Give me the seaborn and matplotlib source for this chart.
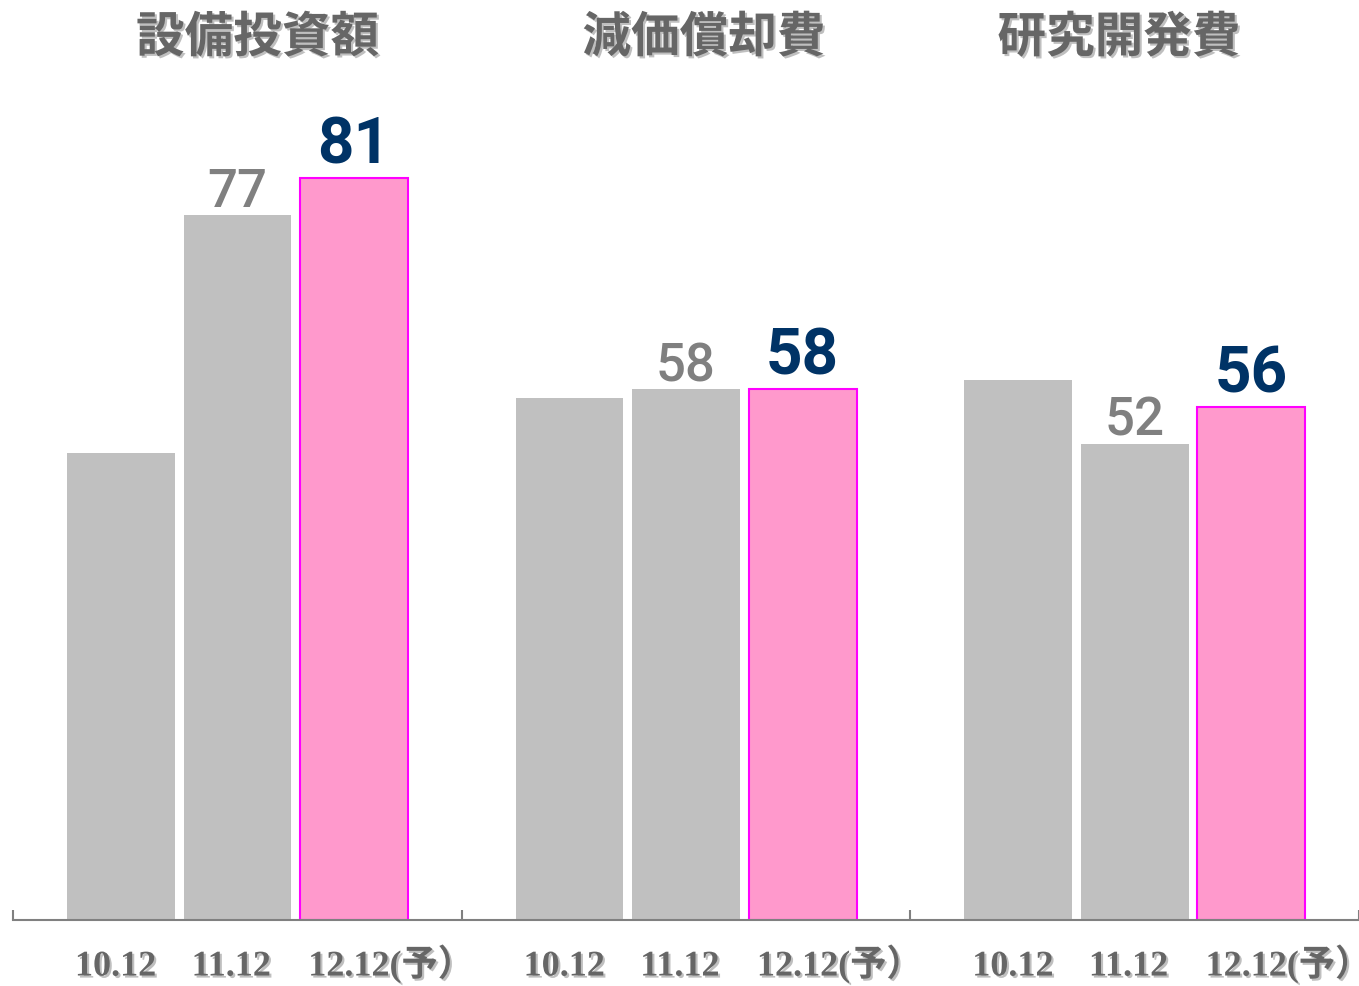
import matplotlib
matplotlib.use("Agg")
import matplotlib.pyplot as plt
import matplotlib.patheffects as pe
from matplotlib.transforms import blended_transform_factory
import pandas as pd
import seaborn as sns

# data
metrics = ["設備投資額", "減価償却費", "研究開発費"]
periods = ["10.12", "11.12", "12.12(予）"]
values_1012 = [51, 57, 59]
values_1112 = [77, 58, 52]
values_1212 = [81, 58, 56]

GREY = "#c0c0c0"
PINK = "#ff99cc"
MAGENTA = "#ff00ff"
LABEL_GREY = "#808080"
NAVY = "#003366"
TEXT_GREY = "#666666"
AXIS_GREY = "#808080"

NUM_FONT = ["Roboto", "DejaVu Sans"]
TICK_FONT = ["Liberation Serif", "Noto Sans CJK JP", "DejaVu Sans"]
TITLE_FONT = ["Noto Sans CJK JP", "DejaVu Sans"]

sns.set_theme(style="white")
plt.rcParams.update({"figure.facecolor": "white", "axes.facecolor": "white"})

df = pd.DataFrame({
    "metric": metrics * 3,
    "period": [periods[0]] * 3 + [periods[1]] * 3 + [periods[2]] * 3,
    "value": values_1012 + values_1112 + values_1212,
})

fig = plt.figure(figsize=(13.59, 9.87), dpi=100)
ax = fig.add_axes([0.0096, 0.0669, 0.9904, 0.8349])

sns.barplot(
    data=df, x="metric", y="value", hue="period",
    order=metrics, hue_order=periods,
    palette=[GREY, GREY, PINK], saturation=1,
    width=0.78, gap=0.077, errorbar=None, legend=False, ax=ax,
)

for i, cont in enumerate(ax.containers):
    for bar in cont:
        if i == 2:
            bar.set_edgecolor(MAGENTA)
            bar.set_linewidth(1.5)
        else:
            bar.set_linewidth(0)

ax.bar_label(ax.containers[1], labels=[str(v) for v in values_1112],
             padding=-1.5, color=LABEL_GREY, fontsize=38, fontweight="medium",
             fontfamily=NUM_FONT)
ax.bar_label(ax.containers[2], labels=[str(v) for v in values_1212],
             padding=2, color=NAVY, fontsize=46, fontweight="bold", fontfamily=NUM_FONT)

shadow = [pe.withSimplePatchShadow(offset=(1.5, -1.5), shadow_rgbFace="#b8b8b8", alpha=0.9)]

# period labels under each bar
bars = sorted(ax.patches, key=lambda p: p.get_x())
ax.set_xticks([b.get_x() + 0.018 for b in bars])
ax.set_xticklabels(periods * len(metrics), ha="left", va="baseline", fontsize=26,
                   fontweight="bold", color=TEXT_GREY, fontfamily=TICK_FONT)
for lbl in ax.get_xticklabels():
    lbl.set_path_effects(shadow)
ax.tick_params(axis="x", which="major", bottom=True, length=0, pad=40)
ax.set_xticks([i - 0.5 for i in range(len(metrics) + 1)], minor=True)
ax.tick_params(axis="x", which="minor", bottom=True, direction="in",
               length=7, width=1.5, color=AXIS_GREY)

ax.set_xlim(-0.5, len(metrics) - 0.5)
ax.set_ylim(0, 90)
ax.set_yticks([])
ax.set_xlabel("")
ax.set_ylabel("")
sns.despine(ax=ax, left=True)
ax.spines["bottom"].set_color(AXIS_GREY)
ax.spines["bottom"].set_linewidth(1.5)

# group titles
title_shift = [0.045, 0.04, -0.035]
trans = blended_transform_factory(ax.transData, fig.transFigure)
for i, m in enumerate(metrics):
    ax.text(i + title_shift[i], 0.961, m, transform=trans, ha="center", va="center",
            fontsize=35, fontweight="bold", color=TEXT_GREY,
            fontfamily=TITLE_FONT, path_effects=shadow)

fig.savefig("out.png", dpi=100)
